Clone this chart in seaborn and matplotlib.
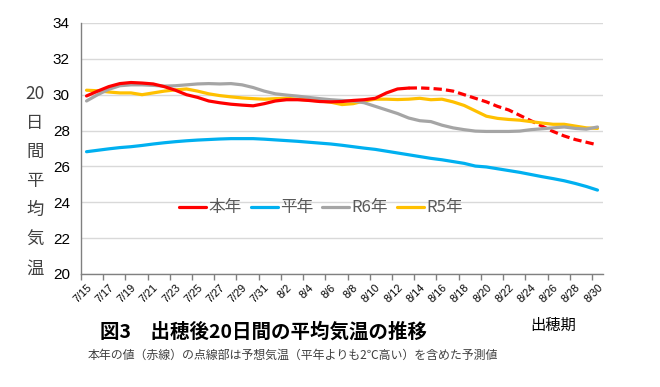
import numpy as np
import pandas as pd
import seaborn as sns
import matplotlib.pyplot as plt

# dates 7/15 .. 8/30 (daily)
dates = [f"7/{d}" for d in range(15, 32)] + [f"8/{d}" for d in range(1, 31)]

# 本年: observed up to 8/13, forecast (dashed) from 8/13
honen_obs = [29.93, 30.2, 30.45, 30.62, 30.68, 30.65, 30.6, 30.45, 30.25, 30.0,
             29.85, 29.65, 29.55, 29.47, 29.42, 29.38, 29.5, 29.65, 29.72, 29.72,
             29.68, 29.62, 29.6, 29.62, 29.68, 29.72, 29.8, 30.1, 30.32, 30.37]
honen_fcst = [30.37, 30.38, 30.35, 30.3, 30.2, 30.0, 29.8, 29.6, 29.35, 29.15,
              28.85, 28.55, 28.25, 27.95, 27.7, 27.5, 27.35, 27.2]
heinen = [26.82, 26.9, 26.98, 27.05, 27.1, 27.17, 27.25, 27.32, 27.38, 27.43,
          27.47, 27.5, 27.53, 27.55, 27.55, 27.55, 27.52, 27.48, 27.44, 27.4,
          27.35, 27.3, 27.25, 27.18, 27.1, 27.02, 26.95, 26.85, 26.75, 26.65,
          26.55, 26.45, 26.37, 26.27, 26.17, 26.02, 25.97, 25.87, 25.77, 25.67,
          25.55, 25.43, 25.32, 25.2, 25.05, 24.88, 24.68]
r6 = [29.65, 30.0, 30.3, 30.5, 30.55, 30.55, 30.52, 30.48, 30.5, 30.55,
      30.6, 30.62, 30.6, 30.62, 30.55, 30.4, 30.2, 30.05, 29.98, 29.92,
      29.85, 29.78, 29.72, 29.68, 29.65, 29.55, 29.35, 29.15, 28.95, 28.7,
      28.55, 28.5, 28.3, 28.15, 28.05, 27.97, 27.95, 27.95, 27.95, 27.97,
      28.05, 28.1, 28.15, 28.2, 28.12, 28.08, 28.2]
r5 = [30.25, 30.22, 30.15, 30.1, 30.1, 30.0, 30.1, 30.2, 30.27, 30.32,
      30.2, 30.05, 29.95, 29.88, 29.82, 29.78, 29.75, 29.78, 29.8, 29.75,
      29.7, 29.65, 29.58, 29.45, 29.5, 29.65, 29.75, 29.75, 29.73, 29.75,
      29.8, 29.72, 29.75, 29.6, 29.4, 29.1, 28.8, 28.68, 28.62, 28.58,
      28.5, 28.42, 28.35, 28.35, 28.25, 28.15, 28.12]
series_names = ["本年", "平年", "R6年", "R5年"]
colors = ["#FF0000", "#00B0F0", "#A5A5A5", "#FFC000"]
yticks = [20, 22, 24, 26, 28, 30, 32, 34]

sns.set_theme(style="white")
plt.rcParams["font.family"] = ["Noto Sans CJK JP", "DejaVu Sans"]

fig = plt.figure(figsize=(6.6, 3.87), dpi=100)
ax = fig.add_axes([0.1227, 0.292, 0.791, 0.6486])

x = np.arange(len(dates))
n_obs = len(honen_obs)
lw = 2.3

sns.lineplot(x=x[n_obs - 1:], y=honen_fcst, ax=ax, color=colors[0], lw=lw,
             dashes=False, legend=False)
ax.lines[-1].set_dashes((2.6, 1.3))
sns.lineplot(x=x, y=r5, ax=ax, color=colors[3], lw=lw, legend=False)
sns.lineplot(x=x, y=r6, ax=ax, color=colors[2], lw=lw, legend=False)
sns.lineplot(x=x, y=heinen, ax=ax, color=colors[1], lw=lw, legend=False)
sns.lineplot(x=x[:n_obs], y=honen_obs, ax=ax, color=colors[0], lw=lw, legend=False)

ax.set_xlim(-0.5, len(dates) - 0.5)
ax.set_ylim(20, 34)
ax.set_yticks(yticks)
ax.set_yticklabels([str(v) for v in yticks], fontsize=11, color="black",
                   family="Liberation Sans")
ax.yaxis.grid(True, color="#D9D9D9", lw=1)
ax.tick_params(axis="y", length=0, pad=8)

ax.set_xticks(x[::2])
ax.set_xticklabels(dates[::2], rotation=45, ha="right", rotation_mode="anchor",
                   fontsize=7.8, family="Liberation Sans", color="black")
ax.set_xticks(np.arange(-0.5, len(dates), 2), minor=True)
ax.tick_params(axis="x", which="major", length=0, pad=6)
ax.tick_params(axis="x", which="minor", length=4, color="#808080", width=1,
               direction="out", bottom=True)
ax.set_xlabel("")
ax.set_ylabel("")

for side in ["top", "right"]:
    ax.spines[side].set_visible(False)
for side in ["left", "bottom"]:
    ax.spines[side].set_color("#808080")
    ax.spines[side].set_linewidth(1)

handles = [plt.Line2D([], [], color=c, lw=lw) for c in colors]
leg = ax.legend(handles, series_names, loc="center", bbox_to_anchor=(0.46, 0.263),
                ncol=4, frameon=False, fontsize=12, handlelength=1.6,
                handletextpad=0.15, columnspacing=0.55)
for t in leg.get_texts():
    t.set_color("#595959")

fig.text(0.053, 0.532, "20\n日\n間\n平\n均\n気\n温", ha="center", va="center",
         fontsize=12.5, color="#404040", linespacing=1.8)
fig.text(0.152, 0.142, "図3　出穂後20日間の平均気温の推移", ha="left", va="center",
         fontsize=14, fontweight="bold", color="black")
fig.text(0.838, 0.16, "出穂期", ha="center", va="center", fontsize=11,
         color="black")
fig.text(0.133, 0.083, "本年の値（赤線）の点線部は予想気温（平年よりも2℃高い）を含めた予測値",
         ha="left", va="center", fontsize=8.6, color="#404040")

fig.savefig("out.png", dpi=100)
